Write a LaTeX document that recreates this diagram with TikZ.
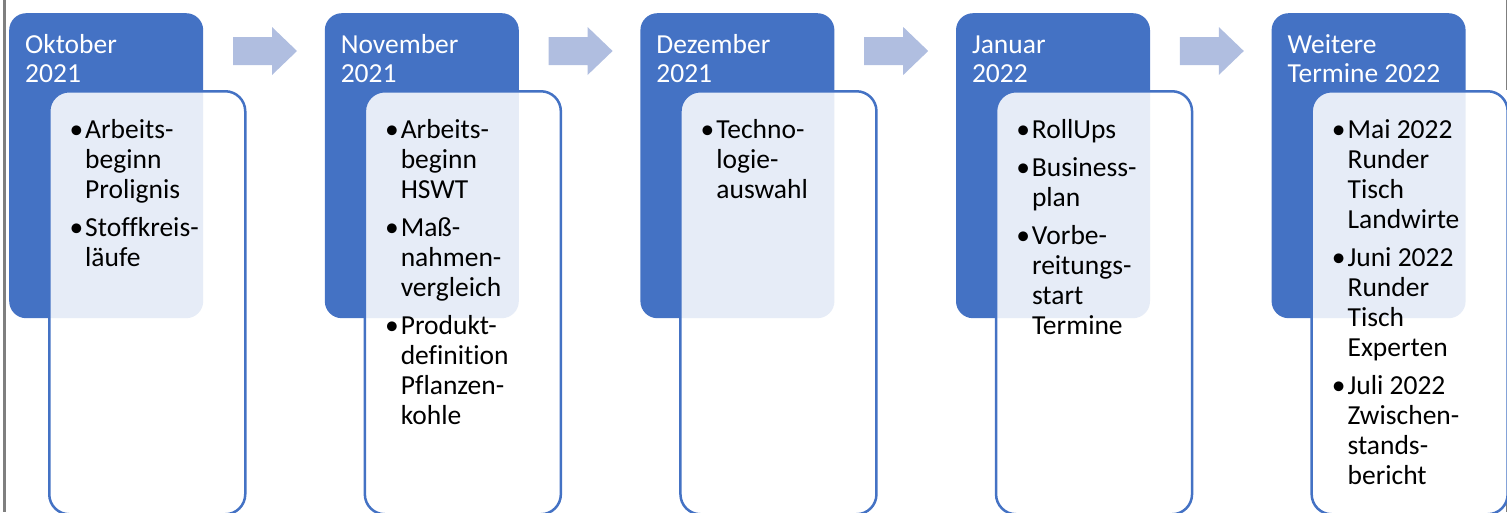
\documentclass[tikz,border=0pt]{standalone}
\usepackage{fontspec}
\setmainfont{Carlito}[Ligatures={NoCommon}]
\definecolor{hdrblue}{HTML}{4472C4}
\definecolor{arrowblue}{HTML}{B0BEE0}
\definecolor{framegray}{HTML}{7F7F7F}
\newcommand{\bul}{\leavevmode\llap{\textbullet\hspace{2pt}}}
\begin{document}
\begin{tikzpicture}[x=1pt,y=-1pt,
  hdr/.style={fill=hdrblue, rounded corners=17pt, anchor=north west, inner sep=0pt,
    minimum width=194pt, minimum height=305pt},
  card/.style={draw=hdrblue, line width=2.5pt, fill=white, fill opacity=0.87,
    rounded corners=20pt, anchor=north west, inner sep=0pt,
    minimum width=196pt, minimum height=423pt},
  hdrtext/.style={text=white, anchor=base west, inner sep=0pt,
    font=\fontsize{27.5}{29}\selectfont},
  itemtext/.style={text=black, anchor=base west, inner sep=0pt,
    font=\fontsize{27.5}{30}\selectfont},
  blockarrow/.style={fill=arrowblue},
  frame/.style={draw=framegray}]

\useasboundingbox (0,0) rectangle (1507,512);

% page frame lines
\draw[frame, line width=3pt] (4.5,0) -- (4.5,512);
\draw[frame, line width=1pt] (1506,0) -- (1506,90);
\draw[frame, line width=1pt] (1506,497) -- (1506,512);

% month headers
\foreach \i in {1,...,5}{
  \node[hdr] (h\i) at ({9+315.6*(\i-1)},13) {};
}

% block arrows between the headers
\foreach \i in {1,...,4}{
  \pgfmathsetmacro{\ox}{315.6*(\i-1)}
  \fill[blockarrow] (233+\ox,37) -- (272+\ox,37) -- (272+\ox,27) -- (297+\ox,51)
    -- (272+\ox,75) -- (272+\ox,65) -- (233+\ox,65) -- cycle;
}

% content cards
\foreach \i in {1,...,5}{
  \node[card] (c\i) at ({48+315.6*(\i-1)},90) {};
}

% header labels
\node[hdrtext] (t1) at (25,53) {\parbox[t]{180pt}{Oktober\\2021}};
\node[hdrtext] (t2) at (340.6,53) {\parbox[t]{180pt}{November\\2021}};
\node[hdrtext] (t3) at (656.2,53) {\parbox[t]{180pt}{Dezember\\2021}};
\node[hdrtext] (t4) at (971.8,53) {\parbox[t]{180pt}{Januar\\2022}};
\node[hdrtext] (t5) at (1287.4,53) {\parbox[t]{180pt}{Weitere\\Termine 2022}};

% card contents
\node[itemtext] (l1) at (85,138) {\parbox[t]{170pt}{\raggedright
  \bul Arbeits-\\beginn\\Prolignis\\[8pt]
  \bul Stoffkreis-\\läufe}};
\node[itemtext] (l2) at (400.6,138) {\parbox[t]{170pt}{\raggedright
  \bul Arbeits-\\beginn\\HSWT\\[8pt]
  \bul Maß-\\nahmen-\\vergleich\\[8pt]
  \bul Produkt-\\definition\\Pflanzen-\\kohle}};
\node[itemtext] (l3) at (716.2,138) {\parbox[t]{170pt}{\raggedright
  \bul Techno-\\logie-\\auswahl}};
\node[itemtext] (l4) at (1031.8,138) {\parbox[t]{170pt}{\raggedright
  \bul RollUps\\[8pt]
  \bul Business-\\plan\\[8pt]
  \bul Vorbe-\\reitungs-\\start\\Termine}};
\node[itemtext] (l5) at (1347.4,138) {\parbox[t]{170pt}{\raggedright
  \bul Mai 2022\\Runder\\Tisch\\Landwirte\\[8pt]
  \bul Juni 2022\\Runder\\Tisch\\Experten\\[8pt]
  \bul Juli 2022\\Zwischen-\\stands-\\bericht}};
\end{tikzpicture}
\end{document}
